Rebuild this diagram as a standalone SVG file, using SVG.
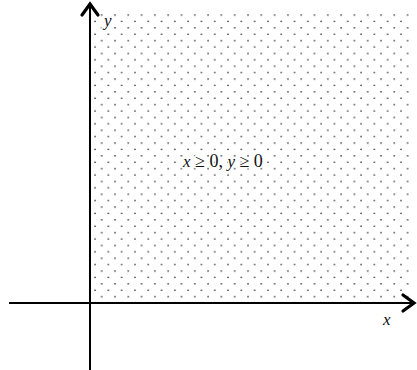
<svg xmlns="http://www.w3.org/2000/svg" width="417" height="370" viewBox="0 0 417 370">
<style>
.axis{stroke:#000;stroke-width:2;fill:none}
.head{stroke:#000;stroke-width:3.2;fill:none;stroke-linecap:round;stroke-linejoin:miter}
.lbl{font-family:"Liberation Serif",serif;font-style:italic;font-size:17px;fill:#111;stroke:#fff;stroke-width:3;paint-order:stroke;stroke-linejoin:round}
.num{font-style:normal;font-size:18px}
</style>
<defs>
<pattern id="dots" patternUnits="userSpaceOnUse" x="95" y="8.3" width="13.3" height="12.8">
<rect x="6.05" y="6.1" width="1.3" height="1.3" fill="#111"/>
<rect x="-0.6" y="12.5" width="1.3" height="1.3" fill="#111"/>
<rect x="12.7" y="12.5" width="1.3" height="1.3" fill="#111"/>
<rect x="-0.6" y="-0.3" width="1.3" height="1.3" fill="#111"/>
<rect x="12.7" y="-0.3" width="1.3" height="1.3" fill="#111"/>
</pattern>
</defs>
<g id="region">
<rect x="91" y="12" width="319" height="290" fill="url(#dots)"/>
</g>
<g id="connectors">
<line class="axis" x1="9" y1="303" x2="414" y2="303"/>
<polyline class="head" points="403,295 414,303 403,311"/>
<line class="axis" x1="90" y1="370" x2="90" y2="4"/>
<polyline class="head" points="82,15 90,4 98,15"/>
</g>
<g id="labels">
<text class="lbl" x="104" y="26">y</text>
<text class="lbl" x="383" y="325">x</text>
<text class="lbl" x="183" y="167">x<tspan class="num"> ≥ 0, </tspan>y<tspan class="num"> ≥ 0</tspan></text>
</g>
</svg>
